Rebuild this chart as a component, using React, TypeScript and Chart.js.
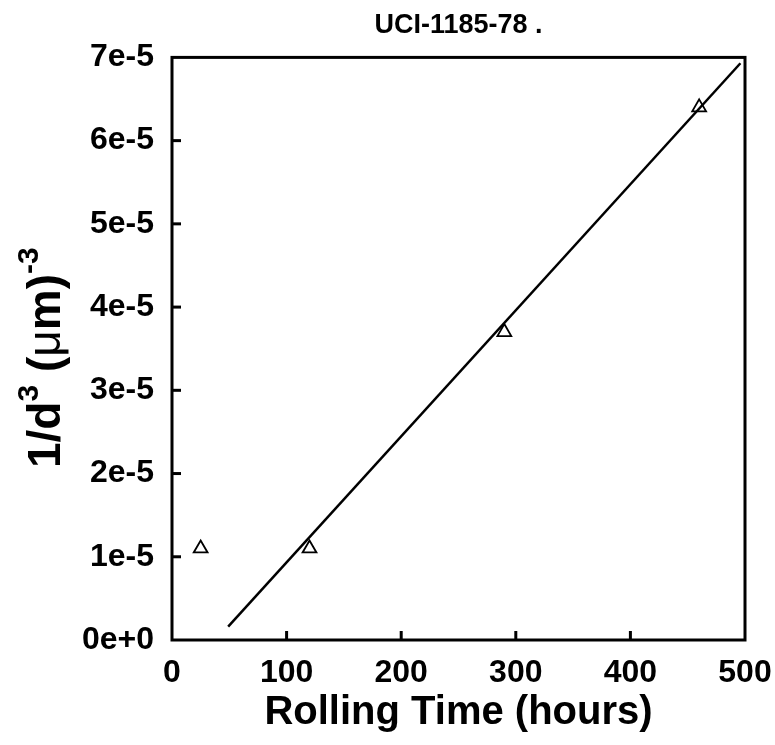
import React, { useEffect, useRef } from "react";
import { Chart, registerables } from "chart.js";

Chart.register(...registerables);

const titleText = "UCI-1185-78 .";
const xTitle = "Rolling Time (hours)";
// y title pieces: [text, isSuperscript]
const yTitleParts: [string, boolean][] = [
  ["1/d", false],
  ["3", true],
  [" (", false],
  ["μ", false],
  ["m)", false],
  ["-3", true],
];

const hours = [25, 120, 290, 460];
const invD3 = [1.1e-5, 1.1e-5, 3.7e-5, 6.4e-5];

const fitHours = [49, 496];
const fitValues = [0.16e-5, 6.93e-5];

const xMin = 0, xMax = 500, xStep = 100;
const yMin = 0, yMax = 7e-5, yStep = 1e-5;

const FONT = "'Liberation Sans', Arial, Helvetica, sans-serif";

const framePlugin = {
  id: "frame",
  afterDatasetsDraw(chart: any) {
    const { ctx, chartArea, scales } = chart;
    ctx.save();
    ctx.strokeStyle = "#000";
    ctx.lineWidth = 3;
    const len = 9;
    scales.x.ticks.forEach((t: any) => {
      if (t.value <= xMin || t.value >= xMax) return;
      const px = scales.x.getPixelForValue(t.value);
      ctx.beginPath();
      ctx.moveTo(px, chartArea.bottom);
      ctx.lineTo(px, chartArea.bottom - len);
      ctx.stroke();
    });
    scales.y.ticks.forEach((t: any) => {
      if (t.value <= yMin + 1e-12 || t.value >= yMax - 1e-12) return;
      const py = scales.y.getPixelForValue(t.value);
      ctx.beginPath();
      ctx.moveTo(chartArea.left, py);
      ctx.lineTo(chartArea.left + len, py);
      ctx.stroke();
    });
    ctx.strokeRect(chartArea.left, chartArea.top, chartArea.right - chartArea.left, chartArea.bottom - chartArea.top);
    ctx.restore();
  },
  afterDraw(chart: any) {
    // y-axis title with real superscripts
    const { ctx, chartArea } = chart;
    const mainFont = `bold 46px ${FONT}`;
    const supFont = `bold 30px ${FONT}`;
    const muFont = `46px ${FONT}`;
    ctx.save();
    const widths = yTitleParts.map(([t, sup]) => {
      ctx.font = sup ? supFont : t === "μ" ? muFont : mainFont;
      return ctx.measureText(t).width;
    });
    const total = widths.reduce((a, b) => a + b, 0);
    const centerY = (chartArea.top + chartArea.bottom) / 2 + 9;
    ctx.translate(60, centerY);
    ctx.rotate(-Math.PI / 2);
    ctx.fillStyle = "#000";
    ctx.textBaseline = "alphabetic";
    ctx.textAlign = "left";
    let x = -total / 2;
    yTitleParts.forEach(([t, sup], i) => {
      ctx.font = sup ? supFont : t === "μ" ? muFont : mainFont;
      ctx.fillText(t, x, sup ? -22 : 0);
      x += widths[i];
    });
    ctx.restore();
  },
};

export default function App() {
  const ref = useRef<HTMLCanvasElement>(null);
  useEffect(() => {
    document.body.style.margin = "0";
    const chart = new Chart(ref.current!, {
      type: "scatter",
      data: {
        datasets: [
          {
            type: "line",
            data: fitHours.map((x, i) => ({ x, y: fitValues[i] })),
            borderColor: "#000",
            borderWidth: 2.5,
            pointRadius: 0,
            fill: false,
          } as any,
          {
            data: hours.map((x, i) => ({ x, y: invD3[i] })),
            pointStyle: "triangle",
            pointRadius: 8,
            borderColor: "#000",
            backgroundColor: "#fff",
            borderWidth: 1.8,
          },
        ],
      },
      options: {
        animation: false,
        responsive: false,
        layout: { padding: { left: 0, right: 30, top: 0, bottom: 0 } },
        plugins: {
          legend: { display: false },
          tooltip: { enabled: false },
          title: {
            display: true,
            text: titleText,
            fullSize: false,
            color: "#000",
            font: { family: FONT, size: 27, weight: "bold" },
            padding: { top: 9, bottom: 16 },
          },
        },
        scales: {
          x: {
            type: "linear",
            min: xMin,
            max: xMax,
            grid: { display: false, drawTicks: false },
            border: { display: false },
            ticks: {
              stepSize: xStep,
              color: "#000",
              padding: 14,
              font: { family: FONT, size: 32, weight: "bold" },
            },
            title: {
              display: true,
              text: xTitle,
              color: "#000",
              font: { family: FONT, size: 40, weight: "bold" },
              padding: { top: 0, bottom: 8 },
            },
            afterFit(scale: any) {
              scale.height = 105;
              scale.paddingLeft = 0;
              scale.paddingRight = 0;
            },
          },
          y: {
            type: "linear",
            min: yMin,
            max: yMax,
            grid: { display: false, drawTicks: false },
            border: { display: false },
            ticks: {
              stepSize: yStep,
              color: "#000",
              padding: 18,
              font: { family: FONT, size: 32, weight: "bold" },
              callback: (v: any) => Number(v).toExponential(0),
            },
            title: { display: false },
            afterFit(scale: any) {
              scale.width = 172;
              scale.paddingTop = 0;
              scale.paddingBottom = 0;
            },
          },
        },
      },
      plugins: [framePlugin],
    });
    return () => chart.destroy();
  }, []);
  return (
    <div style={{ width: 775, height: 745 }}>
      <canvas ref={ref} width={775} height={745} style={{ display: "block" }} />
    </div>
  );
}
